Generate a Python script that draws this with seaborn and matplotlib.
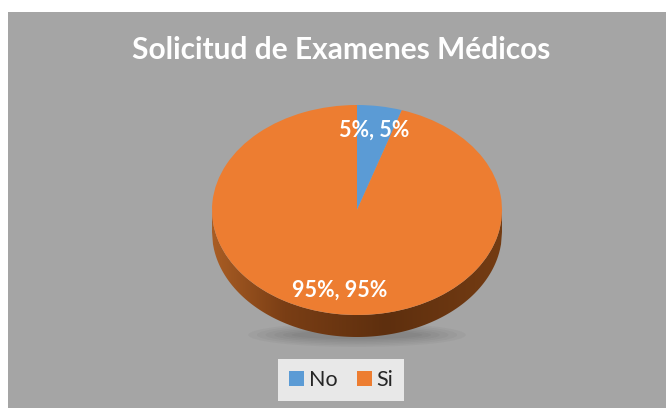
import numpy as np
import matplotlib
matplotlib.use("Agg")
import matplotlib.pyplot as plt
from matplotlib.patches import Polygon, Ellipse, Patch
from matplotlib.colors import LinearSegmentedColormap
import seaborn as sns

# data
labels = ["No", "Si"]
values = [5, 95]
title = "Solicitud de Examenes Médicos"

sns.set_theme(style="white")
plt.rcParams['font.family'] = ['Lato', 'DejaVu Sans']

colors = sns.color_palette(["#5b9bd5", "#ed7d31"])
bg = "#a5a5a5"

W, H = 666, 408
fig = plt.figure(figsize=(W / 100, H / 100), dpi=100)
fig.patch.set_facecolor("white")

# gray chart area (white margin top and left)
bgax = fig.add_axes([8 / W, 0, 1 - 8 / W, 1 - 12 / H])
bgax.set_facecolor(bg)
bgax.set_xticks([])
bgax.set_yticks([])
for s in bgax.spines.values():
    s.set_visible(False)

# pie axes: top face of the ellipse spans x 212-502, y 105-315 px
cx, cy, rx, ry = 357, 210, 145, 105
depth = 22 / ry
ax = fig.add_axes([(cx - rx) / W, (H - cy - ry) / H - depth * ry / H,
                   2 * rx / W, (2 * ry + depth * ry) / H])
ax.patch.set_visible(False)

# soft shadow under the pie
for k in range(6):
    sh = Ellipse((0, -1 - depth + 0.02), 0.9 + 0.12 * k, 0.08 + 0.03 * k,
                 facecolor="black", alpha=0.03, edgecolor="none",
                 clip_on=False, zorder=0)
    ax.add_patch(sh)

# side band of the 3D pie
xs = np.linspace(-1, 1, 300)
ytop = -np.sqrt(1 - xs ** 2)
band = np.concatenate([np.column_stack([xs, ytop]),
                       np.column_stack([xs[::-1], ytop[::-1] - depth])])
poly = Polygon(band, closed=True, facecolor="none", edgecolor="none")
ax.add_patch(poly)
cmap = LinearSegmentedColormap.from_list(
    "side", [(0, "#a95d24"), (0.25, "#7a3e15"), (0.6, "#5e2f0e"), (1, "#743c13")])
grad = np.linspace(0, 1, 256).reshape(1, -1)
im = ax.imshow(grad, extent=(-1, 1, -1 - depth, 0), cmap=cmap,
               aspect="auto", zorder=1)
im.set_clip_path(poly)

wedges, texts, autotexts = ax.pie(
    values, colors=colors, startangle=90, counterclock=False, radius=1,
    autopct=lambda p: f"{p:.0f}%, {p:.0f}%", pctdistance=0.77,
    wedgeprops=dict(linewidth=0, zorder=2),
    textprops=dict(color="white", fontsize=15.5, fontweight="bold"))
for t in autotexts:
    t.set_zorder(3)
ax.set_aspect("auto")
ax.set_xlim(-1, 1)
ax.set_ylim(-1 - depth, 1)
ax.axis("off")

fig.text(341 / W, 1 - 50 / H, title, color="white", fontsize=21.5,
         fontweight="bold", ha="center", va="center")

handles = [Patch(facecolor=c, edgecolor="none") for c in colors]
leg = fig.legend(handles, labels, loc="center", ncol=2,
                 bbox_to_anchor=(341 / W, 1 - 380 / H), frameon=True,
                 fontsize=15.5, handlelength=0.7, handleheight=0.7,
                 handletextpad=0.2, columnspacing=0.9, borderpad=0.5,
                 fancybox=False)
leg.get_frame().set_facecolor("#e8e8e8")
leg.get_frame().set_edgecolor("none")
leg.get_frame().set_alpha(1)

fig.savefig("out.png", dpi=100, facecolor=fig.get_facecolor())
